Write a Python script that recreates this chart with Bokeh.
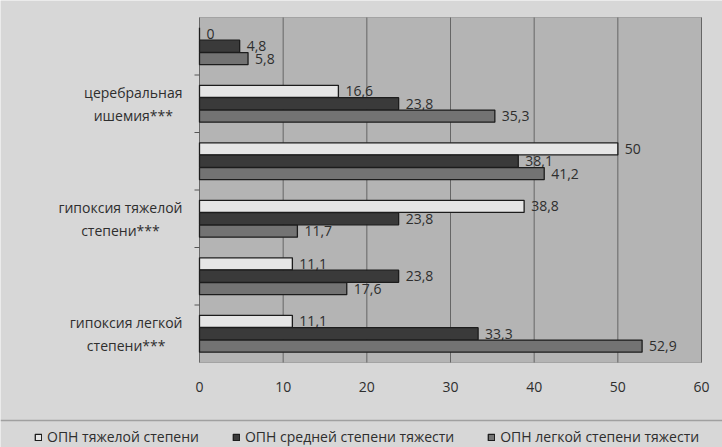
import numpy as np
from bokeh.plotting import figure
from bokeh.models import (Range1d, ColumnDataSource, Legend, LegendItem, BoxAnnotation, Span)
from bokeh.core.properties import value
from bokeh.embed import file_html
from bokeh.resources import INLINE

# categories bottom -> top
categories = ["гипоксия легкой\nстепени***", "", "гипоксия тяжелой\nстепени***", "",
              "церебральная\nишемия***", ""]
series_names = ["ОПН тяжелой степени", "ОПН средней степени тяжести", "ОПН легкой степени тяжести"]
severe = [11.1, 11.1, 38.8, 50.0, 16.6, 0.0]
moderate = [33.3, 23.8, 23.8, 38.1, 23.8, 4.8]
mild = [52.9, 17.6, 11.7, 41.2, 35.3, 5.8]
x_ticks = [0, 10, 20, 30, 40, 50, 60]

FONT = "Open Sans"
TXT = "#2e2e2e"
OUTER = "#d7d7d7"
PLOT_BG = "#b4b4b4"
AXC = "#555555"
colors = ["#e6e6e6", "#3a3a3a", "#737373"]
offsets = [0.215, 0.0, -0.215]

# layout in pixels (plot area inside the 722x447 canvas)
W, H = 722, 447
L, R, T, B = 199, 701, 17, 362
xmin, xmax = x_ticks[0], x_ticks[-1]
ncat = len(categories)
px_x = (R - L) / (xmax - xmin)
px_y = (B - T) / ncat

p = figure(width=W, height=H, output_backend="svg", toolbar_location=None,
           x_range=Range1d(xmin - L / px_x, xmax + (W - R) / px_x),
           y_range=Range1d(-(H - B) / px_y, ncat + T / px_y),
           x_axis_type=None, y_axis_type=None, min_border=0)
p.background_fill_color = OUTER
p.border_fill_color = OUTER
p.outline_line_color = None
p.grid.grid_line_color = None

# plot area
p.add_layout(BoxAnnotation(left=xmin, right=xmax, bottom=0, top=ncat, fill_color=PLOT_BG,
                           fill_alpha=1, line_color=AXC, line_width=1, level="underlay"))
# vertical grid lines
p.segment(x0=x_ticks, y0=0, x1=x_ticks, y1=ncat, line_color="#666666", line_width=1)
# category boundary tick marks on the left axis
p.ray(x=xmin, y=list(range(1, ncat)), length=5, length_units="screen", angle=np.pi,
      line_color=AXC, line_width=1)

bar_renderers = []
for vals, col, off in zip([severe, moderate, mild], colors, offsets):
    ys = [i + 0.5 + off for i in range(ncat)]
    src = ColumnDataSource(dict(y=ys, v=vals,
                                lab=[("%g" % v).replace(".", ",") for v in vals]))
    r = p.hbar(y="y", right="v", left=0, height=0.21, source=src,
               fill_color=col, line_color="#1c1c1c", line_width=1.3)
    p.text(x="v", y="y", text="lab", source=src, x_offset=7, text_baseline="middle",
           text_font=value(FONT), text_font_size="14px", text_color=TXT)
    bar_renderers.append(r)

# x tick labels
p.text(x=x_ticks, y=[0] * len(x_ticks), text=[str(t) for t in x_ticks], y_offset=19,
       text_align="center", text_baseline="top", text_font=value(FONT),
       text_font_size="14px", text_color=TXT)

# category labels (lines centred, block right-aligned)
lab_y = [i + 0.5 for i in range(ncat) if categories[i]]
lab_t = [c for c in categories if c]
p.text(x=[xmin] * len(lab_y), y=lab_y, text=lab_t, x_offset=-17, text_align="center",
       anchor=value("center_right"), text_font=value(FONT), text_font_size="14px",
       text_color=TXT, text_line_height=1.2)

# separator above legend
p.add_layout(Span(location=-(420 - B) / px_y, dimension="width", line_color="#a0a0a0",
                  line_width=1.5))

legend = Legend(items=[LegendItem(label=n, renderers=[r]) for n, r in zip(series_names, bar_renderers)],
                location=(34, 1), orientation="horizontal",
                background_fill_alpha=0, border_line_color=None,
                label_text_font=FONT, label_text_font_size="14px", label_text_color=TXT,
                glyph_width=8, glyph_height=8, label_height=18, label_standoff=5,
                spacing=33, padding=0, margin=0)
p.add_layout(legend, "center")

open("out.html", "w").write(file_html(p, INLINE))
